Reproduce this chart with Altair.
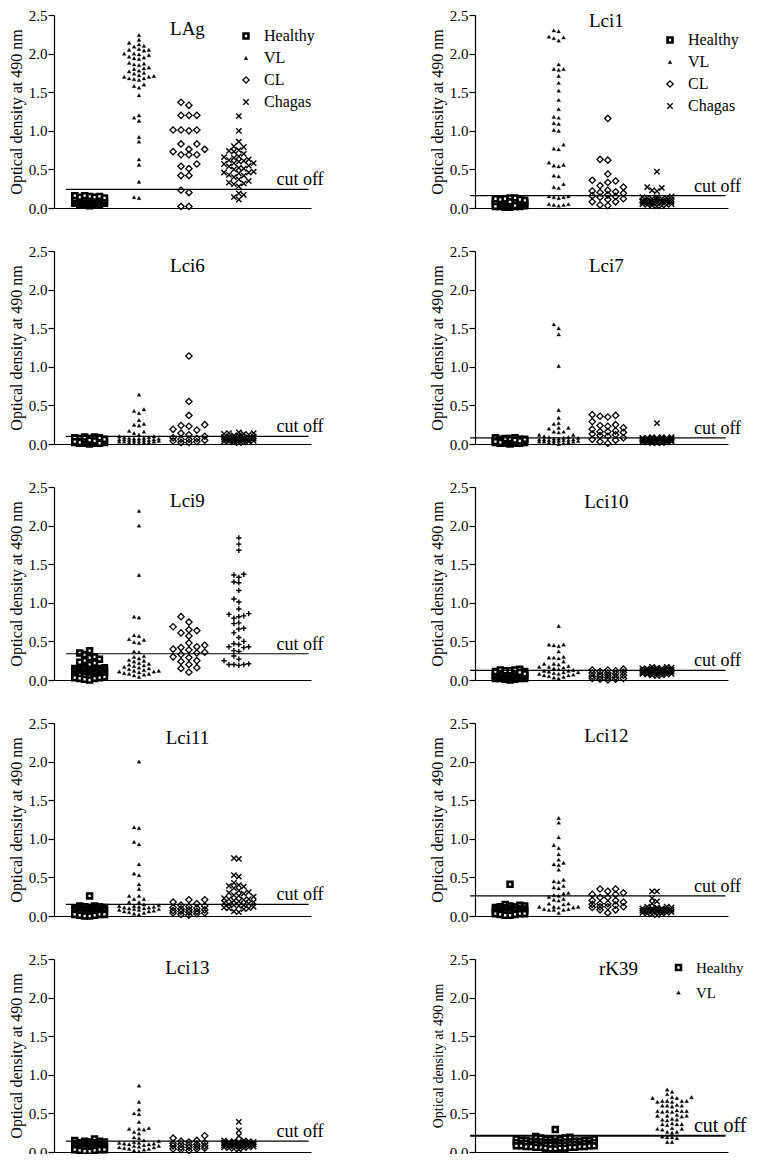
import altair as alt
import pandas as pd

SERIF = "Liberation Serif"

# ---------------- data (optical density at 490 nm) ----------------
LAG_HEALTHY = [0.03,0.04,0.04,0.05,0.05,0.06,0.06,0.06,0.07,0.07,0.07,0.08,0.08,0.08,0.08,0.09,0.09,0.09,0.10,0.10,0.10,0.10,0.11,0.11,0.11,0.12,0.12,0.12,0.13,0.13,0.14,0.14,0.15,0.15,0.16,0.16]
LAG_VL = [2.24,2.18,2.14,2.12,2.10,2.09,2.06,2.05,2.05,2.04,2.00,2.00,1.99,1.98,1.96,1.95,1.94,1.93,1.88,1.87,1.86,1.85,1.82,1.81,1.80,1.78,1.77,1.75,1.74,1.72,1.71,1.70,1.70,1.68,1.68,1.67,1.66,1.60,1.58,1.56,1.46,1.20,1.17,1.13,0.92,0.86,0.63,0.56,0.34,0.14,0.13]
LAG_CL = [1.37,1.33,1.20,1.20,1.20,1.01,1.01,1.00,1.01,0.83,0.83,0.76,0.76,0.73,0.69,0.69,0.69,0.57,0.54,0.51,0.42,0.42,0.23,0.20,0.02,0.02]
LAG_CHAGAS = [1.19,1.00,0.86,0.80,0.79,0.75,0.74,0.73,0.70,0.67,0.66,0.65,0.63,0.62,0.61,0.60,0.58,0.58,0.57,0.55,0.54,0.52,0.51,0.50,0.47,0.46,0.46,0.45,0.43,0.42,0.40,0.37,0.35,0.33,0.32,0.31,0.28,0.19,0.17,0.14,0.11]

LCI1_HEALTHY = [0.01,0.01,0.02,0.02,0.02,0.03,0.03,0.03,0.04,0.04,0.04,0.05,0.05,0.05,0.06,0.06,0.06,0.07,0.07,0.07,0.08,0.08,0.08,0.09,0.09,0.10,0.10,0.11,0.11,0.12,0.12,0.13,0.13,0.03,0.05,0.07,0.02,0.04,0.06,0.08]
LCI1_VL = [2.30,2.29,2.22,2.21,2.20,2.17,1.86,1.80,1.80,1.79,1.71,1.62,1.52,1.40,1.28,1.18,1.17,1.10,1.09,1.00,1.01,0.82,0.77,0.76,0.59,0.56,0.55,0.54,0.42,0.41,0.31,0.27,0.26,0.15,0.14,0.14,0.13,0.15,0.05,0.04,0.04,0.05,0.03]
LCI1_CL = [1.16,0.63,0.62,0.44,0.36,0.35,0.33,0.29,0.23,0.22,0.21,0.20,0.17,0.16,0.15,0.12,0.11,0.08,0.08,0.04,0.03,0.27,0.19,0.14]
LCI1_CHAGAS = [0.47,0.27,0.26,0.23,0.22,0.15,0.14,0.14,0.13,0.13,0.12,0.12,0.11,0.11,0.10,0.10,0.10,0.09,0.09,0.09,0.08,0.08,0.08,0.07,0.07,0.06,0.06,0.05,0.05,0.04,0.04,0.03,0.03,0.02]

LCI6_HEALTHY = [0.00,0.01,0.01,0.01,0.02,0.02,0.02,0.02,0.03,0.03,0.03,0.03,0.04,0.04,0.04,0.05,0.05,0.05,0.06,0.06,0.06,0.07,0.07,0.08,0.08,0.09,0.09,0.01,0.02,0.03,0.04,0.05,0.02,0.03]
LCI6_VL = [0.64,0.45,0.43,0.40,0.31,0.26,0.25,0.24,0.17,0.16,0.14,0.12,0.10,0.10,0.09,0.09,0.08,0.08,0.07,0.07,0.07,0.06,0.06,0.06,0.05,0.05,0.05,0.04,0.04,0.04,0.03,0.03,0.03,0.02,0.02,0.02,0.01,0.01]
LCI6_CL = [1.14,0.55,0.37,0.25,0.24,0.23,0.19,0.18,0.14,0.10,0.07,0.06,0.06,0.05,0.03,0.02,0.02,0.08,0.04,0.12]
LCI6_CHAGAS = [0.15,0.14,0.14,0.13,0.13,0.12,0.11,0.11,0.10,0.10,0.09,0.09,0.08,0.08,0.08,0.07,0.07,0.07,0.06,0.06,0.06,0.05,0.05,0.05,0.04,0.04,0.04,0.03,0.03,0.03,0.02,0.02,0.01]

LCI7_HEALTHY = [0.00,0.01,0.01,0.01,0.02,0.02,0.02,0.02,0.03,0.03,0.03,0.03,0.04,0.04,0.04,0.04,0.05,0.05,0.05,0.06,0.06,0.06,0.07,0.07,0.08,0.08,0.01,0.02,0.03,0.04,0.05,0.02,0.03,0.04]
LCI7_VL = [1.55,1.50,1.42,1.01,0.44,0.34,0.27,0.26,0.21,0.21,0.20,0.16,0.16,0.15,0.12,0.12,0.10,0.09,0.09,0.08,0.08,0.07,0.07,0.06,0.06,0.06,0.05,0.05,0.05,0.04,0.04,0.04,0.03,0.03,0.03,0.02,0.02,0.01,0.01,0.00]
LCI7_CL = [0.38,0.37,0.36,0.35,0.29,0.25,0.24,0.23,0.21,0.19,0.17,0.16,0.16,0.15,0.13,0.12,0.11,0.10,0.06,0.05,0.01,0.08,0.03]
LCI7_CHAGAS = [0.27,0.09,0.09,0.09,0.08,0.08,0.08,0.08,0.07,0.07,0.07,0.06,0.06,0.06,0.06,0.05,0.05,0.05,0.05,0.04,0.04,0.04,0.04,0.03,0.03,0.03,0.03,0.02,0.02,0.02,0.01,0.01,0.01]

LCI9_HEALTHY = [0.38,0.35,0.33,0.30,0.29,0.27,0.25,0.23,0.22,0.20,0.16,0.16,0.15,0.15,0.14,0.14,0.14,0.13,0.13,0.12,0.12,0.12,0.11,0.11,0.10,0.10,0.10,0.09,0.09,0.08,0.08,0.08,0.07,0.07,0.06,0.06,0.06,0.05,0.05,0.04,0.04,0.03,0.03,0.02,0.02,0.01,0.00]
LCI9_VL = [2.19,2.00,1.36,0.82,0.81,0.58,0.57,0.53,0.52,0.49,0.48,0.37,0.36,0.31,0.30,0.26,0.25,0.24,0.21,0.20,0.19,0.17,0.16,0.15,0.13,0.12,0.12,0.11,0.11,0.09,0.08,0.08,0.07,0.04,0.14,0.22,0.28,0.10,0.06,0.18]
LCI9_CL = [0.82,0.75,0.69,0.65,0.64,0.61,0.57,0.48,0.45,0.43,0.42,0.40,0.39,0.36,0.35,0.33,0.30,0.29,0.25,0.24,0.20,0.16,0.15,0.10]
LCI9_CHAGAS = [1.84,1.76,1.68,1.37,1.36,1.33,1.27,1.26,1.16,1.05,1.01,0.92,0.86,0.85,0.83,0.82,0.80,0.74,0.73,0.67,0.66,0.61,0.55,0.50,0.47,0.46,0.43,0.43,0.42,0.38,0.37,0.31,0.27,0.25,0.21,0.20,0.20,0.19,0.20]

LCI10_HEALTHY = [0.00,0.01,0.01,0.02,0.02,0.02,0.03,0.03,0.03,0.04,0.04,0.04,0.05,0.05,0.05,0.06,0.06,0.06,0.07,0.07,0.07,0.08,0.08,0.08,0.09,0.09,0.10,0.10,0.11,0.11,0.12,0.12,0.13,0.13,0.14,0.02,0.04,0.06,0.08,0.10]
LCI10_VL = [0.70,0.46,0.45,0.44,0.46,0.37,0.30,0.29,0.29,0.28,0.24,0.21,0.21,0.20,0.18,0.17,0.17,0.16,0.15,0.14,0.13,0.12,0.12,0.11,0.10,0.09,0.08,0.07,0.06,0.05,0.04,0.03,0.02,0.10,0.08,0.06]
LCI10_CL = [0.14,0.13,0.13,0.12,0.11,0.10,0.09,0.09,0.08,0.07,0.06,0.06,0.05,0.04,0.04,0.03,0.02,0.02,0.01,0.01,0.00]
LCI10_CHAGAS = [0.17,0.17,0.16,0.16,0.15,0.15,0.15,0.14,0.14,0.14,0.13,0.13,0.13,0.12,0.12,0.12,0.12,0.11,0.11,0.11,0.11,0.10,0.10,0.10,0.09,0.09,0.09,0.08,0.08,0.08,0.07,0.07,0.06,0.06,0.05]

LCI11_HEALTHY = [0.26,0.13,0.13,0.12,0.12,0.11,0.11,0.10,0.10,0.10,0.09,0.09,0.09,0.08,0.08,0.08,0.07,0.07,0.07,0.06,0.06,0.06,0.05,0.05,0.05,0.04,0.04,0.04,0.03,0.03,0.03,0.02,0.02,0.02,0.01,0.01,0.00,0.00]
LCI11_VL = [2.00,1.15,1.14,0.96,0.93,0.67,0.55,0.53,0.41,0.35,0.26,0.26,0.22,0.22,0.18,0.18,0.15,0.14,0.13,0.12,0.11,0.10,0.09,0.08,0.07,0.06,0.05,0.04,0.03,0.02,0.12,0.10,0.08,0.06,0.13,0.09,0.11]
LCI11_CL = [0.21,0.21,0.18,0.16,0.14,0.13,0.12,0.11,0.10,0.09,0.08,0.08,0.07,0.06,0.06,0.05,0.04,0.04,0.03,0.02,0.01]
LCI11_CHAGAS = [0.75,0.74,0.53,0.51,0.43,0.40,0.39,0.38,0.36,0.31,0.30,0.29,0.26,0.25,0.22,0.22,0.21,0.23,0.19,0.18,0.17,0.15,0.14,0.14,0.13,0.11,0.10,0.10,0.09,0.06,0.05,0.27,0.33,0.20,0.16,0.12]

LCI12_HEALTHY = [0.41,0.15,0.14,0.13,0.13,0.12,0.12,0.11,0.11,0.10,0.10,0.09,0.09,0.09,0.08,0.08,0.08,0.07,0.07,0.07,0.06,0.06,0.06,0.05,0.05,0.05,0.04,0.04,0.04,0.03,0.03,0.03,0.02,0.02,0.01,0.01]
LCI12_VL = [1.27,1.21,1.02,0.92,0.88,0.80,0.73,0.69,0.67,0.66,0.60,0.47,0.45,0.44,0.39,0.37,0.36,0.30,0.29,0.27,0.26,0.25,0.22,0.21,0.20,0.16,0.16,0.15,0.12,0.12,0.11,0.12,0.11,0.09,0.08,0.08,0.09,0.08,0.04]
LCI12_CL = [0.35,0.35,0.32,0.28,0.28,0.24,0.24,0.20,0.20,0.16,0.16,0.15,0.12,0.12,0.11,0.12,0.08,0.08,0.04,0.30,0.18,0.14]
LCI12_CHAGAS = [0.32,0.32,0.23,0.19,0.16,0.12,0.12,0.11,0.11,0.10,0.10,0.10,0.09,0.09,0.09,0.08,0.08,0.08,0.07,0.07,0.07,0.06,0.06,0.06,0.05,0.05,0.04,0.04,0.03,0.03,0.02,0.01]

LCI13_HEALTHY = [0.17,0.15,0.14,0.14,0.13,0.13,0.12,0.12,0.11,0.11,0.10,0.10,0.09,0.09,0.09,0.08,0.08,0.08,0.07,0.07,0.07,0.06,0.06,0.06,0.05,0.05,0.05,0.04,0.04,0.04,0.03,0.03,0.03,0.02,0.02,0.01,0.01]
LCI13_VL = [0.86,0.65,0.55,0.50,0.49,0.39,0.31,0.30,0.30,0.29,0.26,0.24,0.19,0.18,0.15,0.14,0.13,0.12,0.11,0.10,0.09,0.08,0.07,0.06,0.05,0.04,0.03,0.02,0.01,0.12,0.10,0.08,0.06,0.04,0.11]
LCI13_CL = [0.21,0.18,0.15,0.14,0.13,0.12,0.11,0.10,0.10,0.09,0.08,0.08,0.07,0.06,0.06,0.05,0.04,0.04,0.03,0.02]
LCI13_CHAGAS = [0.39,0.28,0.21,0.15,0.15,0.14,0.14,0.13,0.13,0.13,0.12,0.12,0.12,0.11,0.11,0.11,0.10,0.10,0.10,0.09,0.09,0.09,0.08,0.08,0.08,0.07,0.07,0.06,0.06,0.05,0.05,0.04,0.03]

RK39_HEALTHY = [0.29,0.20,0.19,0.18,0.18,0.17,0.17,0.16,0.16,0.16,0.15,0.15,0.15,0.15,0.14,0.14,0.14,0.14,0.13,0.13,0.13,0.13,0.12,0.12,0.12,0.12,0.12,0.11,0.11,0.11,0.11,0.11,0.10,0.10,0.10,0.10,0.10,0.09,0.09,0.09,0.09,0.09,0.08,0.08,0.08,0.08,0.08,0.07,0.07,0.07,0.07,0.06,0.06,0.06,0.06,0.05,0.05,0.05,0.04,0.04]
RK39_VL = [0.81,0.78,0.75,0.71,0.71,0.70,0.70,0.66,0.66,0.65,0.66,0.65,0.66,0.60,0.60,0.59,0.60,0.61,0.53,0.53,0.52,0.54,0.53,0.52,0.53,0.47,0.47,0.46,0.48,0.47,0.42,0.42,0.41,0.43,0.36,0.36,0.35,0.37,0.36,0.30,0.30,0.29,0.31,0.26,0.25,0.26,0.19,0.19,0.20,0.18,0.13,0.13]

PANEL_NAMES = ["LAg", "Lci1", "Lci6", "Lci7", "Lci9", "Lci10", "Lci11", "Lci12", "Lci13", "rK39"]
CUTOFFS = [0.24, 0.16, 0.10, 0.08, 0.34, 0.125, 0.15, 0.26, 0.14, 0.21]
Y_TICKS = [0, 0.5, 1.0, 1.5, 2.0, 2.5]

# ---------------- styling / layout ----------------
X_PATH = "M-1,-1L1,1M-1,1L1,-1"
PLUS_PATH = "M-1,0L1,0M0,-1L0,1"
X_DOMAIN = [0, 5.2]
CENTERS = {"Healthy": 0.72, "VL": 1.72, "CL": 2.73, "Chagas": 3.74}
RK_CENTERS = {"Healthy": 1.65, "VL": 4.05}
SWARM = {  # horizontal step (x units), min vertical gap (y units), max half-columns
    "Healthy": (0.1, 0.075, 3),
    "VL": (0.1, 0.06, 4),
    "CL": (0.16, 0.08, 2),
    "Chagas": (0.1, 0.07, 3),
}
SHAPE = {"Healthy": "square", "VL": "triangle-up", "CL": "diamond", "Chagas": X_PATH}
FILL = {"Healthy": "white", "VL": "black", "CL": "transparent", "Chagas": "transparent"}
SIZE = {"Healthy": 24, "VL": 15, "CL": 40, "Chagas": 28}
SW = {"Healthy": 2.6, "VL": 0.3, "CL": 1.3, "Chagas": 1.4}
PANEL_H = 193


def swarm(values, center, hx, dymin, kmax):
    order = [0]
    for i in range(1, kmax + 1):
        order += [-i, i]
    placed = {k: [] for k in order}
    res = [None] * len(values)
    for i in sorted(range(len(values)), key=lambda j: values[j]):
        v = values[i]
        chosen = None
        for k in order:
            if all(abs(v - y) >= dymin for y in placed[k]):
                chosen = k
                break
        if chosen is None:
            chosen = max(order, key=lambda k: min(abs(v - y) for y in placed[k]))
        placed[chosen].append(v)
        res[i] = center + chosen * hx
    return res


def panel(idx, series, width, left, legend_xy=None, title_y=20, plus=False, rk=False):
    name = PANEL_NAMES[idx]
    cutoff = CUTOFFS[idx]
    rows = []
    groups = [g for g, _ in series]
    for g, vals in series:
        hx, dymin, kmax = SWARM[g]
        if rk and g == "Healthy":
            kmax = 8
        center = (RK_CENTERS if rk else CENTERS)[g]
        xs = swarm(vals, center, hx, dymin, kmax)
        rows += [{"group": g, "od": v, "xpos": x} for v, x in zip(vals, xs)]
    df = pd.DataFrame(rows)
    shapes = [PLUS_PATH if (plus and g == "Chagas") else SHAPE[g] for g in groups]

    if legend_xy is not None:
        leg = alt.Legend(title=None, orient="none", legendX=legend_xy[0], legendY=legend_xy[1],
                         labelFont=SERIF, labelFontSize=15 if rk else 16, labelColor="black",
                         rowPadding=9 if rk else 6, labelOffset=10)
    else:
        leg = None

    def enc(scale_range, ordinal=False):
        sc = alt.Scale(domain=groups, range=scale_range)
        if ordinal:
            sc = alt.Scale(type="ordinal", domain=groups, range=scale_range)
        return dict(field="group", type="nominal", scale=sc, legend=leg)

    yaxis = alt.Axis(values=Y_TICKS, format=".1f", tickCount=6,
                     title="Optical density at 490 nm", labelOverlap=False, labelFlush=False,
                     titleFontSize=14 if rk else 16, grid=False)
    xaxis = alt.Axis(labels=False, ticks=False, title=None, grid=False)
    yscale = alt.Scale(domain=[0, 2.5], padding=0, nice=False)
    xscale = alt.Scale(domain=X_DOMAIN, padding=0, nice=False, zero=False)

    pts = alt.Chart(df).mark_point(filled=False, color="black", opacity=1).encode(
        x=alt.X("xpos:Q", scale=xscale, axis=xaxis),
        y=alt.Y("od:Q", scale=yscale, axis=yaxis),
        shape=alt.Shape(**enc(shapes)),
        fill=alt.Fill(**enc([FILL[g] for g in groups])),
        size=alt.Size(**enc([SIZE[g] for g in groups], ordinal=True)),
        strokeWidth=alt.StrokeWidth(**enc([SW[g] for g in groups], ordinal=True)),
    )
    cut_df = pd.DataFrame({"cut": [cutoff], "label": ["cut off"], "name": [name]})
    x_start = 0.24 if left else -0.1
    rule = alt.Chart(cut_df).mark_rule(color="black", strokeWidth=2 if rk else 1.2).encode(
        y=alt.Y("cut:Q", scale=yscale, axis=yaxis),
        x=alt.X(datum=x_start, scale=xscale, axis=xaxis),
        x2=alt.X2(datum=X_DOMAIN[1] - 0.05))
    txt = alt.Chart(cut_df).mark_text(align="left", baseline="alphabetic", dy=-4,
                                      font=SERIF, fontSize=20 if rk else 18, color="black").encode(
        y=alt.Y("cut:Q", scale=yscale, axis=yaxis),
        x=alt.X(datum=4.5, scale=xscale, axis=xaxis),
        text="label:N")
    ttl = alt.Chart(cut_df).mark_text(align="center", baseline="alphabetic", dy=title_y,
                                      font=SERIF, fontSize=19, color="black").encode(
        y=alt.Y(datum=2.5, scale=yscale, axis=yaxis),
        x=alt.X(datum=(RK_CENTERS["Healthy"] + RK_CENTERS["VL"]) / 2 + 0.1 if rk else 2.7,
                scale=xscale, axis=xaxis),
        text="name:N")
    return alt.layer(pts, rule, txt, ttl).properties(width=width, height=PANEL_H)


LW, RW = 257, 253
std = lambda h, v, c, ch: [("Healthy", h), ("VL", v), ("CL", c), ("Chagas", ch)]

panels = [
    panel(0, std(LAG_HEALTHY, LAG_VL, LAG_CL, LAG_CHAGAS), LW, True, legend_xy=(184, 13), title_y=20),
    panel(1, std(LCI1_HEALTHY, LCI1_VL, LCI1_CL, LCI1_CHAGAS), RW, False, legend_xy=(187, 17), title_y=12),
    panel(2, std(LCI6_HEALTHY, LCI6_VL, LCI6_CL, LCI6_CHAGAS), LW, True, title_y=21),
    panel(3, std(LCI7_HEALTHY, LCI7_VL, LCI7_CL, LCI7_CHAGAS), RW, False, title_y=21),
    panel(4, std(LCI9_HEALTHY, LCI9_VL, LCI9_CL, LCI9_CHAGAS), LW, True, title_y=20, plus=True),
    panel(5, std(LCI10_HEALTHY, LCI10_VL, LCI10_CL, LCI10_CHAGAS), RW, False, title_y=21),
    panel(6, std(LCI11_HEALTHY, LCI11_VL, LCI11_CL, LCI11_CHAGAS), LW, True, title_y=21),
    panel(7, std(LCI12_HEALTHY, LCI12_VL, LCI12_CL, LCI12_CHAGAS), RW, False, title_y=19),
    panel(8, std(LCI13_HEALTHY, LCI13_VL, LCI13_CL, LCI13_CHAGAS), LW, True, title_y=15),
    panel(9, [("Healthy", RK39_HEALTHY), ("VL", RK39_VL)], RW, False, legend_xy=(196, 1), title_y=16, rk=True),
]

IND = dict(shape="independent", fill="independent", size="independent", strokeWidth="independent")

chart = alt.concat(*panels, columns=2, spacing={"row": 43, "column": 164}, bounds="flush")
chart = chart.resolve_scale(**IND).resolve_legend(**IND)
chart = chart.properties(padding={"left": 0, "top": 0, "right": 0, "bottom": -6}).configure_view(
    stroke=None
).configure_axis(
    labelFont=SERIF, titleFont=SERIF, labelFontSize=15, titleFontWeight="normal",
    labelColor="black", titleColor="black", domainColor="black", tickColor="black",
    tickSize=6, labelPadding=1, titlePadding=4, domainWidth=1.2, tickWidth=1.2,
)

chart.save("out.html", embed_options={"renderer": "svg", "actions": False})
